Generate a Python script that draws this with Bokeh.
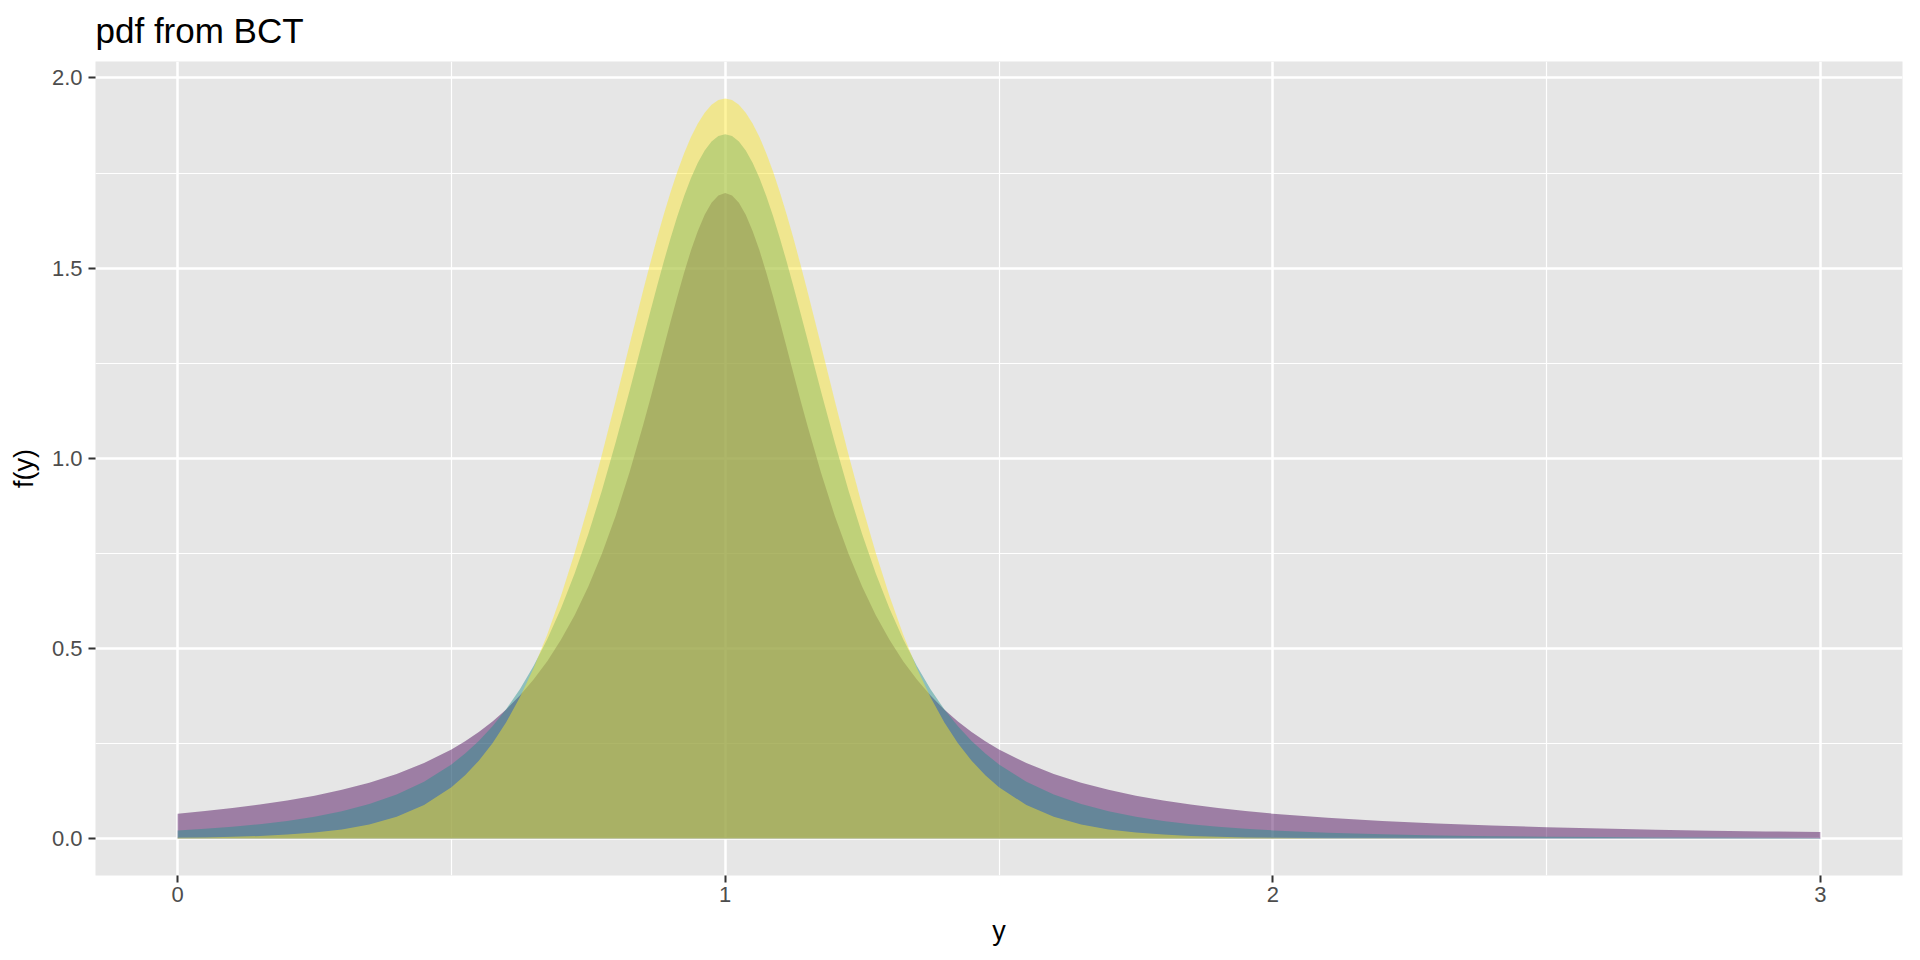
from bokeh.plotting import figure
from bokeh.models import ColumnDataSource, Range1d, FixedTicker
from bokeh.embed import file_html
from bokeh.resources import INLINE

# ---- data (BCT densities, mu=1, three tail settings) ----
y_grid = [0.0, 0.05, 0.1, 0.15, 0.2, 0.25, 0.3, 0.35, 0.4, 0.45, 0.5,
          0.525, 0.55, 0.575, 0.6, 0.625, 0.65, 0.675, 0.7, 0.725, 0.75, 0.775, 0.8, 0.825, 0.85,
          0.8625, 0.875, 0.8875, 0.9, 0.9125, 0.925, 0.9375, 0.95, 0.9625, 0.975, 0.9875, 1.0,
          1.0125, 1.025, 1.0375, 1.05, 1.0625, 1.075, 1.0875, 1.1, 1.1125, 1.125, 1.1375, 1.15,
          1.175, 1.2, 1.225, 1.25, 1.275, 1.3, 1.325, 1.35, 1.375, 1.4, 1.425, 1.45, 1.475, 1.5,
          1.55, 1.6, 1.65, 1.7, 1.75, 1.8, 1.85, 1.9, 1.95, 2.0,
          2.1, 2.2, 2.3, 2.4, 2.5, 2.6, 2.7, 2.8, 2.9, 3.0]

pdf_heavy = [0.0653, 0.0721, 0.0799, 0.0891, 0.0999, 0.1127, 0.1281, 0.1468, 0.1698, 0.1983, 0.2342,
             0.2557, 0.2800, 0.3078, 0.3395, 0.3760, 0.4179, 0.4663, 0.5224, 0.5873, 0.6625, 0.7493, 0.8489, 0.9615, 1.0865,
             1.1528, 1.2208, 1.2896, 1.3582, 1.4249, 1.4884, 1.5467, 1.5978, 1.6400, 1.6716, 1.6911, 1.6977,
             1.6911, 1.6716, 1.6400, 1.5978, 1.5467, 1.4884, 1.4249, 1.3582, 1.2896, 1.2208, 1.1528, 1.0865,
             0.9615, 0.8489, 0.7493, 0.6625, 0.5873, 0.5224, 0.4663, 0.4179, 0.3760, 0.3395, 0.3078, 0.2800, 0.2557, 0.2342,
             0.1983, 0.1698, 0.1468, 0.1281, 0.1127, 0.0999, 0.0891, 0.0799, 0.0721, 0.0653,
             0.0543, 0.0459, 0.0393, 0.0340, 0.0297, 0.0261, 0.0232, 0.0207, 0.0186, 0.0168]

pdf_medium = [0.0213, 0.0255, 0.0308, 0.0376, 0.0462, 0.0573, 0.0717, 0.0906, 0.1158, 0.1494, 0.1948,
              0.2233, 0.2564, 0.2951, 0.3402, 0.3926, 0.4535, 0.5239, 0.6047, 0.6969, 0.8007, 0.9160, 1.0418, 1.1755, 1.3133,
              1.3822, 1.4499, 1.5155, 1.5780, 1.6365, 1.6899, 1.7371, 1.7772, 1.8093, 1.8329, 1.8472, 1.8520,
              1.8472, 1.8329, 1.8093, 1.7772, 1.7371, 1.6899, 1.6365, 1.5780, 1.5155, 1.4499, 1.3822, 1.3133,
              1.1755, 1.0418, 0.9160, 0.8007, 0.6969, 0.6047, 0.5239, 0.4535, 0.3926, 0.3402, 0.2951, 0.2564, 0.2233, 0.1948,
              0.1494, 0.1158, 0.0906, 0.0717, 0.0573, 0.0462, 0.0376, 0.0308, 0.0255, 0.0213,
              0.0151, 0.0110, 0.0081, 0.0062, 0.0047, 0.0037, 0.0029, 0.0024, 0.0019, 0.0016]

pdf_light = [0.0020, 0.0029, 0.0044, 0.0067, 0.0102, 0.0155, 0.0239, 0.0369, 0.0570, 0.0879, 0.1347,
             0.1662, 0.2046, 0.2507, 0.3058, 0.3712, 0.4478, 0.5363, 0.6374, 0.7508, 0.8757, 1.0104, 1.1521, 1.2969, 1.4402,
             1.5095, 1.5762, 1.6396, 1.6989, 1.7533, 1.8022, 1.8447, 1.8804, 1.9088, 1.9294, 1.9418, 1.9460,
             1.9418, 1.9294, 1.9088, 1.8804, 1.8447, 1.8022, 1.7533, 1.6989, 1.6396, 1.5762, 1.5095, 1.4402,
             1.2969, 1.1521, 1.0104, 0.8757, 0.7508, 0.6374, 0.5363, 0.4478, 0.3712, 0.3058, 0.2507, 0.2046, 0.1662, 0.1347,
             0.0879, 0.0570, 0.0369, 0.0239, 0.0155, 0.0102, 0.0067, 0.0044, 0.0029, 0.0020,
             0.0009, 0.0004, 0.0002, 0.0001, 0.0001, 0.0000, 0.0000, 0.0000, 0.0000, 0.0000]

x_ticks = [0, 1, 2, 3]
x_tick_labels = ["0", "1", "2", "3"]
y_ticks = [0.0, 0.5, 1.0, 1.5, 2.0]
y_tick_labels = ["0.0", "0.5", "1.0", "1.5", "2.0"]

series_colors = ["#440154", "#21908C", "#FDE725"]
title_text = "pdf from  BCT"

# ---- figure ----
FONT = "Liberation Sans"
src = ColumnDataSource(dict(y=y_grid, heavy=pdf_heavy, medium=pdf_medium, light=pdf_light))

p = figure(width=1912, height=952, output_backend="svg", toolbar_location=None,
           x_range=Range1d(-0.15, 3.15), y_range=Range1d(-0.0973, 2.0433),
           title=title_text,
           min_border_left=95, min_border_right=10, min_border_top=61, min_border_bottom=77)

p.background_fill_color = "#E6E6E6"
p.border_fill_color = "white"
p.outline_line_color = None

for col, colr in zip(["heavy", "medium", "light"], series_colors):
    p.varea(x="y", y1=0, y2=col, source=src, fill_color=colr, fill_alpha=0.45)

# title
p.title.text_font = FONT
p.title.text_font_size = "35px"
p.title.text_font_style = "normal"
p.title.text_color = "black"
p.title.align = "left"
p.title.vertical_align = "top"
p.title.offset = 0
p.title.standoff = 20

# axes
p.xaxis.ticker = FixedTicker(ticks=x_ticks, minor_ticks=[0.5, 1.5, 2.5])
p.yaxis.ticker = FixedTicker(ticks=y_ticks, minor_ticks=[0.25, 0.75, 1.25, 1.75])
p.xaxis.major_label_overrides = {t: l for t, l in zip(x_ticks, x_tick_labels)}
p.yaxis.major_label_overrides = {t: l for t, l in zip(y_ticks, y_tick_labels)}
p.xaxis.axis_label = "y"
p.yaxis.axis_label = "f(y)"

for ax in (p.xaxis, p.yaxis):
    ax.axis_line_color = None
    ax.major_tick_line_color = "#333333"
    ax.major_tick_line_width = 2
    ax.major_tick_out = 7
    ax.major_tick_in = 0
    ax.minor_tick_line_color = None
    ax.major_label_text_font = FONT
    ax.major_label_text_font_size = "22px"
    ax.major_label_text_color = "#4D4D4D"
    ax.axis_label_text_font = FONT
    ax.axis_label_text_font_size = "27px"
    ax.axis_label_text_font_style = "normal"
    ax.axis_label_text_color = "black"

p.xaxis.major_label_standoff = 4
p.xaxis.axis_label_standoff = 11
p.yaxis.major_label_standoff = 6
p.yaxis.axis_label_standoff = 10

for g in (p.xgrid, p.ygrid):
    g.grid_line_color = "white"
    g.grid_line_width = 2.5
    g.minor_grid_line_color = "white"
    g.minor_grid_line_width = 1.2
    g.level = "underlay"

open("out.html", "w").write(file_html(p, INLINE))
